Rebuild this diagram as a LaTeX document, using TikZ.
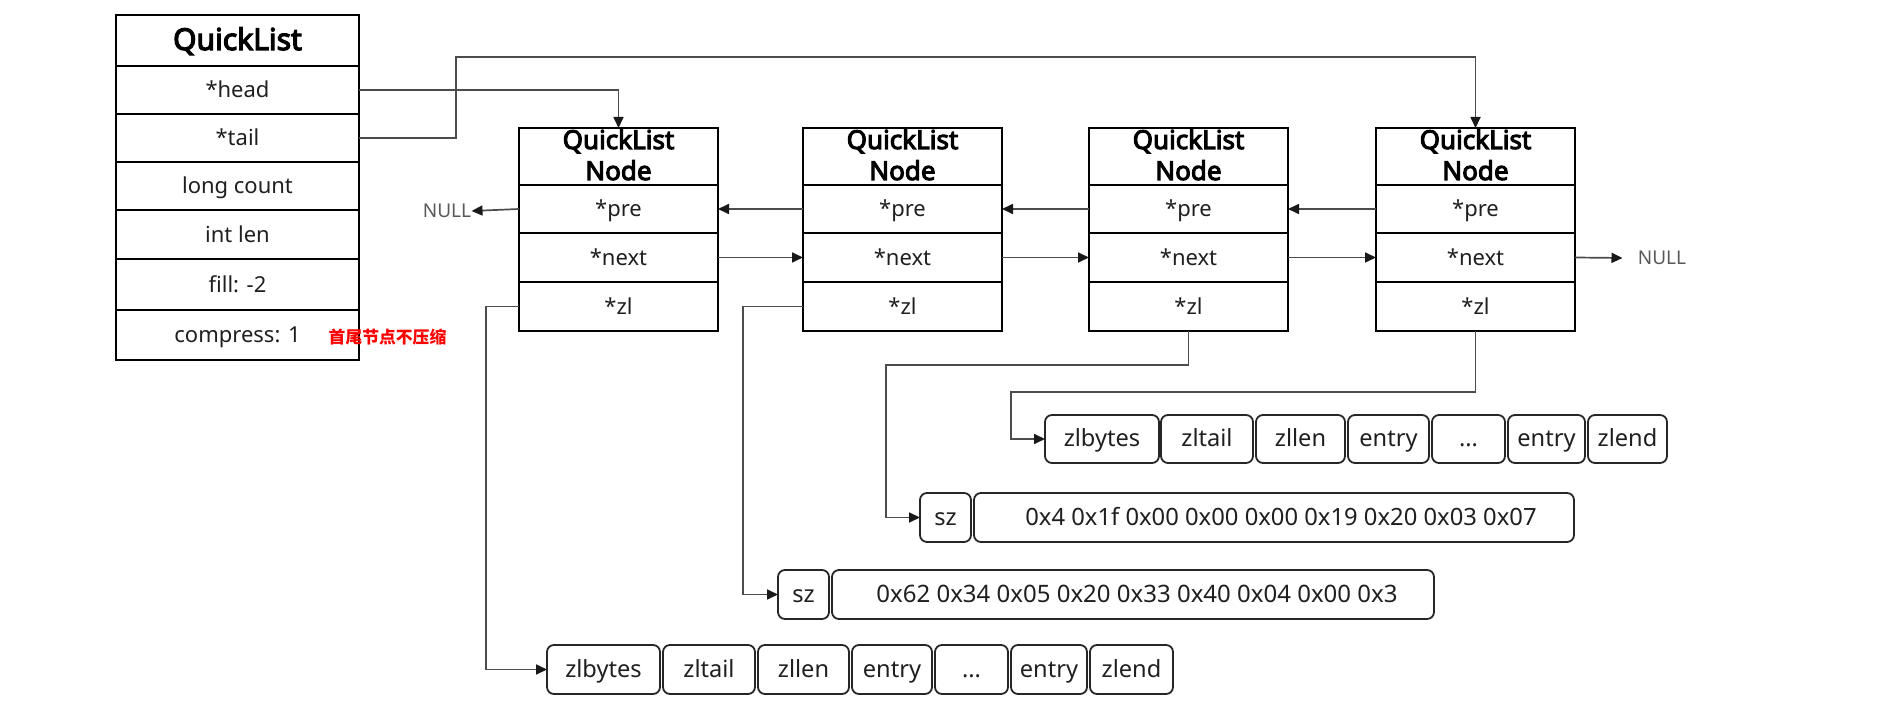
\documentclass[tikz,border=0pt]{standalone}
\usepackage{fontspec}
\setmainfont{Noto Sans}[AutoFakeBold=4]
\newfontfamily\cjkfont{Noto Sans CJK SC}
\usetikzlibrary{arrows.meta}
\begin{document}
\begin{tikzpicture}[x=0.5pt,y=-0.5pt,
  cell/.style={draw=black, line width=1.35pt, inner sep=0pt, outer sep=0pt, text=black!88, text height=8pt, text depth=0pt, font=\fontsize{11}{13}\selectfont},
  boxonly/.style={draw=black, line width=1.35pt, inner sep=0pt, outer sep=0pt},
  qtitle/.style={inner sep=0pt, anchor=base, text=black, font=\bfseries\fontsize{15}{18}\selectfont},
  ntitle/.style={inner sep=0pt, anchor=base, text=black, font=\bfseries\fontsize{13}{15.5}\selectfont},
  zcell/.style={draw=black!85, line width=0.9pt, rounded corners=3.5pt, inner sep=0pt, outer sep=0pt, text=black!88, text height=8pt, text depth=0pt, font=\fontsize{11.8}{13}\selectfont},
  hexcell/.style={zcell, font=\fontsize{11.9}{13}\selectfont},
  link/.style={draw=black!70, line width=0.85pt},
  arrow/.style={link, -{Triangle[length=5.5pt,width=5pt,color=black!90]}},
  nulltext/.style={text=black!65, inner sep=0pt, font=\fontsize{9.5}{11}\selectfont}
]
\useasboundingbox (0,0) rectangle (1880,705);

% QuickList structure
\node[boxonly, minimum width=121.5pt, minimum height=25.5pt] (ql) at (237.5,40.5) {};
\node[qtitle] (qltext) at (237.5,50) {QuickList};
\node[cell, minimum width=121.5pt, minimum height=24pt] (head) at (237.5,90) {*head};
\node[cell, minimum width=121.5pt, minimum height=24pt] (tail) at (237.5,138) {*tail};
\node[cell, minimum width=121.5pt, minimum height=24pt] (count) at (237.5,186) {long count};
\node[cell, minimum width=121.5pt, minimum height=24.5pt] (len) at (237.5,234.5) {int len};
\node[cell, minimum width=121.5pt, minimum height=25.5pt] (fill) at (237.5,284.5) {fill: -2};
\node[cell, minimum width=121.5pt, minimum height=25pt] (compress) at (237.5,335) {compress: 1};
\node[text=red, inner sep=0pt, font=\cjkfont\bfseries\fontsize{8.4}{10}\selectfont] (note) at (387.5,337) {首尾节点不压缩};

% QuickList nodes
\foreach \i/\cx in {1/618.5,2/902.5,3/1188.5,4/1475.5} {
  \node[boxonly, minimum width=99.5pt, minimum height=28.5pt] (t\i) at (\cx,156.5) {};
  \node[ntitle] (ta\i) at (\cx,149) {QuickList};
  \node[ntitle] (tb\i) at (\cx,180) {Node};
  \node[cell, minimum width=99.5pt, minimum height=24pt] (pre\i) at (\cx,209) {*pre};
  \node[cell, minimum width=99.5pt, minimum height=24.5pt] (next\i) at (\cx,257.5) {*next};
  \node[cell, minimum width=99.5pt, minimum height=24.5pt] (zl\i) at (\cx,306.5) {*zl};
}

\node[nulltext] (nullL) at (447,211) {NULL};
\node[nulltext] (nullR) at (1662,258) {NULL};

% ziplist of the tail node
\node[zcell, minimum width=57pt, minimum height=24pt] (za1) at (1102,439) {zlbytes};
\node[zcell, minimum width=46pt, minimum height=24pt] (za2) at (1207,439) {zltail};
\node[zcell, minimum width=44.5pt, minimum height=24pt] (za3) at (1300.5,439) {zllen};
\node[zcell, minimum width=40.5pt, minimum height=24pt] (za4) at (1388.5,439) {entry};
\node[zcell, minimum width=36.5pt, minimum height=24pt] (za5) at (1468.5,439) {...};
\node[zcell, minimum width=38.5pt, minimum height=24pt] (za6) at (1546.5,439) {entry};
\node[zcell, minimum width=39.5pt, minimum height=24pt] (za7) at (1627.5,439) {zlend};

% compressed nodes
\node[zcell, minimum width=25.5pt, minimum height=24.5pt] (sza) at (945.5,517.5) {sz};
\node[hexcell, minimum width=300pt, minimum height=24.5pt] (hexa) at (1274,517.5) {\hspace{7pt}0x4 0x1f 0x00 0x00 0x00 0x19 0x20 0x03 0x07};
\node[zcell, minimum width=25.5pt, minimum height=24.5pt] (szb) at (803.5,594.5) {sz};
\node[hexcell, minimum width=301pt, minimum height=24.5pt, font=\fontsize{12}{13}\selectfont] (hexb) at (1133,594.5) {\hspace{4pt}0x62 0x34 0x05 0x20 0x33 0x40 0x04 0x00 0x3};

% ziplist of the head node
\node[zcell, minimum width=56.5pt, minimum height=24.5pt] (zb1) at (603.5,669.5) {zlbytes};
\node[zcell, minimum width=46pt, minimum height=24.5pt] (zb2) at (709,669.5) {zltail};
\node[zcell, minimum width=45.5pt, minimum height=24.5pt] (zb3) at (803.5,669.5) {zllen};
\node[zcell, minimum width=40pt, minimum height=24.5pt] (zb4) at (892,669.5) {entry};
\node[zcell, minimum width=36.5pt, minimum height=24.5pt] (zb5) at (971.5,669.5) {...};
\node[zcell, minimum width=38pt, minimum height=24.5pt] (zb6) at (1049,669.5) {entry};
\node[zcell, minimum width=41.5pt, minimum height=24.5pt] (zb7) at (1131.5,669.5) {zlend};

% connectors
\coordinate (tailup) at (456,57);
\draw[arrow] (head.east) -| (t1.north);
\draw[arrow] (tail.east) -| (tailup) -| (t4.north);

\draw[arrow] (pre1.west) -- (nullL.east);
\draw[arrow] (pre2.west) -- (pre1.east);
\draw[arrow] (pre3.west) -- (pre2.east);
\draw[arrow] (pre4.west) -- (pre3.east);

\draw[arrow] (next1.east) -- (next2.west);
\draw[arrow] (next2.east) -- (next3.west);
\draw[arrow] (next3.east) -- (next4.west);
\draw[arrow] (next4.east) -- ([xshift=-7.5pt]nullR.west);

\coordinate (zlturn1) at (486,669.5);
\coordinate (zlturn2) at (743,594.5);
\coordinate (zlturn3) at (886,365);
\coordinate (zlturn4) at (1011,392);
\draw[arrow] (zl1.west) -| (zlturn1) -- (zb1.west);
\draw[arrow] (zl2.west) -| (zlturn2) -- (szb.west);
\draw[arrow] (zl3.south) |- (zlturn3) |- (sza.west);
\draw[arrow] (zl4.south) |- (zlturn4) |- (za1.west);
\end{tikzpicture}
\end{document}
